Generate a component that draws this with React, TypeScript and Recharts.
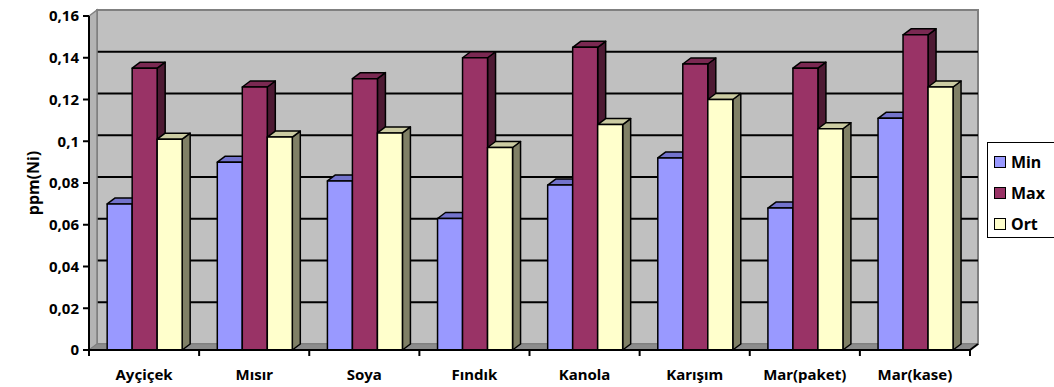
import { BarChart, Bar, XAxis, YAxis, Legend, ReferenceArea } from 'recharts';

const categories = ['Ayçiçek', 'Mısır', 'Soya', 'Fındık', 'Kanola', 'Karışım', 'Mar(paket)', 'Mar(kase)'];
const minValues = [0.07, 0.09, 0.081, 0.063, 0.079, 0.092, 0.068, 0.111];
const maxValues = [0.135, 0.126, 0.13, 0.14, 0.145, 0.137, 0.135, 0.151];
const ortValues = [0.101, 0.102, 0.104, 0.097, 0.108, 0.12, 0.106, 0.126];
const yTicks = [0, 0.02, 0.04, 0.06, 0.08, 0.1, 0.12, 0.14, 0.16];

const series = [
  { key: 'Min', front: '#9999FF', top: '#7373CC', side: '#4D4D80' },
  { key: 'Max', front: '#993366', top: '#7A2952', side: '#4D1A33' },
  { key: 'Ort', front: '#FFFFCC', top: '#CCCCA3', side: '#808066' },
];

const data = categories.map((name, i) => ({
  name,
  Min: minValues[i],
  Max: maxValues[i],
  Ort: ortValues[i],
}));

const DX = 8;
const DY = 6;
const TOP = 16;
const PLOT_H = 334;
const FONT = '"Noto Sans", sans-serif';

const fmt = (v: number) => String(Number(v.toFixed(2))).replace('.', ',');

function Bar3D(colors: { front: string; top: string; side: string }) {
  return (props: any) => {
    const { x, y, width: w, height: h } = props;
    if (!h) return <g />;
    return (
      <g stroke="#000" strokeWidth={1.5} strokeLinejoin="round">
        <polygon
          points={`${x + w},${y} ${x + w + DX},${y - DY} ${x + w + DX},${y + h - DY} ${x + w},${y + h}`}
          fill={colors.side}
        />
        <polygon
          points={`${x},${y} ${x + DX},${y - DY} ${x + w + DX},${y - DY} ${x + w},${y}`}
          fill={colors.top}
        />
        <rect x={x} y={y} width={w} height={h} fill={colors.front} />
      </g>
    );
  };
}

function Walls(props: any) {
  const { x, y, width: w, height: h } = props;
  const max = yTicks[yTicks.length - 1];
  const n = categories.length;
  return (
    <g>
      <rect x={x + DX} y={y - DY} width={w} height={h} fill="#C0C0C0" stroke="#808080" strokeWidth={2} />
      {yTicks.slice(1, -1).map((t) => {
        const ly = y + h * (1 - t / max) - DY;
        return <line key={t} x1={x + DX} x2={x + DX + w} y1={ly} y2={ly} stroke="#000" strokeWidth={2} />;
      })}
      <polygon
        points={`${x},${y + h} ${x},${y} ${x + DX},${y - DY} ${x + DX},${y + h - DY}`}
        fill="#B4B4B4"
        stroke="#808080"
        strokeWidth={1.5}
      />
      <polygon
        points={`${x},${y + h} ${x + DX},${y + h - DY} ${x + w + DX},${y + h - DY} ${x + w},${y + h}`}
        fill="#8C8C8C"
        stroke="#808080"
        strokeWidth={1}
      />
      <line x1={x + w} y1={y + h} x2={x + w + DX} y2={y + h - DY} stroke="#000" strokeWidth={2} />
      {Array.from({ length: n + 1 }, (_, i) => {
        const tx = x + (i * w) / n;
        return <line key={i} x1={tx} x2={tx} y1={y + h} y2={y + h + 6} stroke="#000" strokeWidth={2} />;
      })}
    </g>
  );
}

function AxisTitle() {
  const cx = 33;
  const cy = TOP + PLOT_H / 2;
  return (
    <text
      x={cx}
      y={cy}
      transform={`rotate(-90, ${cx}, ${cy})`}
      textAnchor="middle"
      dominantBaseline="central"
      fill="#000"
      fontSize={16}
      fontWeight="bold"
      fontFamily={FONT}
    >
      ppm(Ni)
    </text>
  );
}

function LegendBox() {
  return (
    <div
      style={{
        border: '1px solid #000',
        background: '#fff',
        width: 70,
        height: 96,
        boxSizing: 'border-box',
        paddingLeft: 6,
        paddingTop: 3,
        fontFamily: FONT,
        fontWeight: 'bold',
        fontSize: 16,
      }}
    >
      {series.map((s) => (
        <div key={s.key} style={{ display: 'flex', alignItems: 'center', height: 31 }}>
          <span
            style={{
              display: 'inline-block',
              width: 10,
              height: 10,
              border: '1.5px solid #000',
              background: s.front,
              marginRight: 5,
            }}
          />
          {s.key}
        </div>
      ))}
    </div>
  );
}

export default function App() {
  return (
    <div style={{ width: 1054, height: 387, overflow: 'hidden' }}>
      <style>{'body { margin: 0; }'}</style>
      <BarChart
        width={1054}
        height={387}
        data={data}
        margin={{ top: TOP, right: 84, bottom: 0, left: 0 }}
        barCategoryGap="16.5%"
        barGap={0}
      >
        <ReferenceArea y1={0} y2={0.16} shape={(p: any) => <Walls {...p} />} />
        {series.map((s) => (
          <Bar key={s.key} dataKey={s.key} shape={Bar3D(s)} isAnimationActive={false} />
        ))}
        <XAxis
          dataKey="name"
          height={37}
          tickLine={false}
          tickMargin={13}
          axisLine={{ stroke: '#000', strokeWidth: 2 }}
          tick={{ fill: '#000', fontSize: 15, fontWeight: 'bold', fontFamily: FONT }}
          interval={0}
        />
        <YAxis
          width={89}
          domain={[0, 0.16]}
          ticks={yTicks}
          interval={0}
          tickFormatter={fmt}
          tickSize={6}
          tickMargin={4}
          axisLine={{ stroke: '#000', strokeWidth: 2 }}
          tickLine={{ stroke: '#000', strokeWidth: 2 }}
          tick={{ fill: '#000', fontSize: 15, fontWeight: 'bold', fontFamily: FONT }}
          label={<AxisTitle />}
        />
        <Legend
          layout="vertical"
          align="center"
          verticalAlign="middle"
          wrapperStyle={{ left: 987, top: 142, width: 70 }}
          content={() => <LegendBox />}
        />
      </BarChart>
    </div>
  );
}
